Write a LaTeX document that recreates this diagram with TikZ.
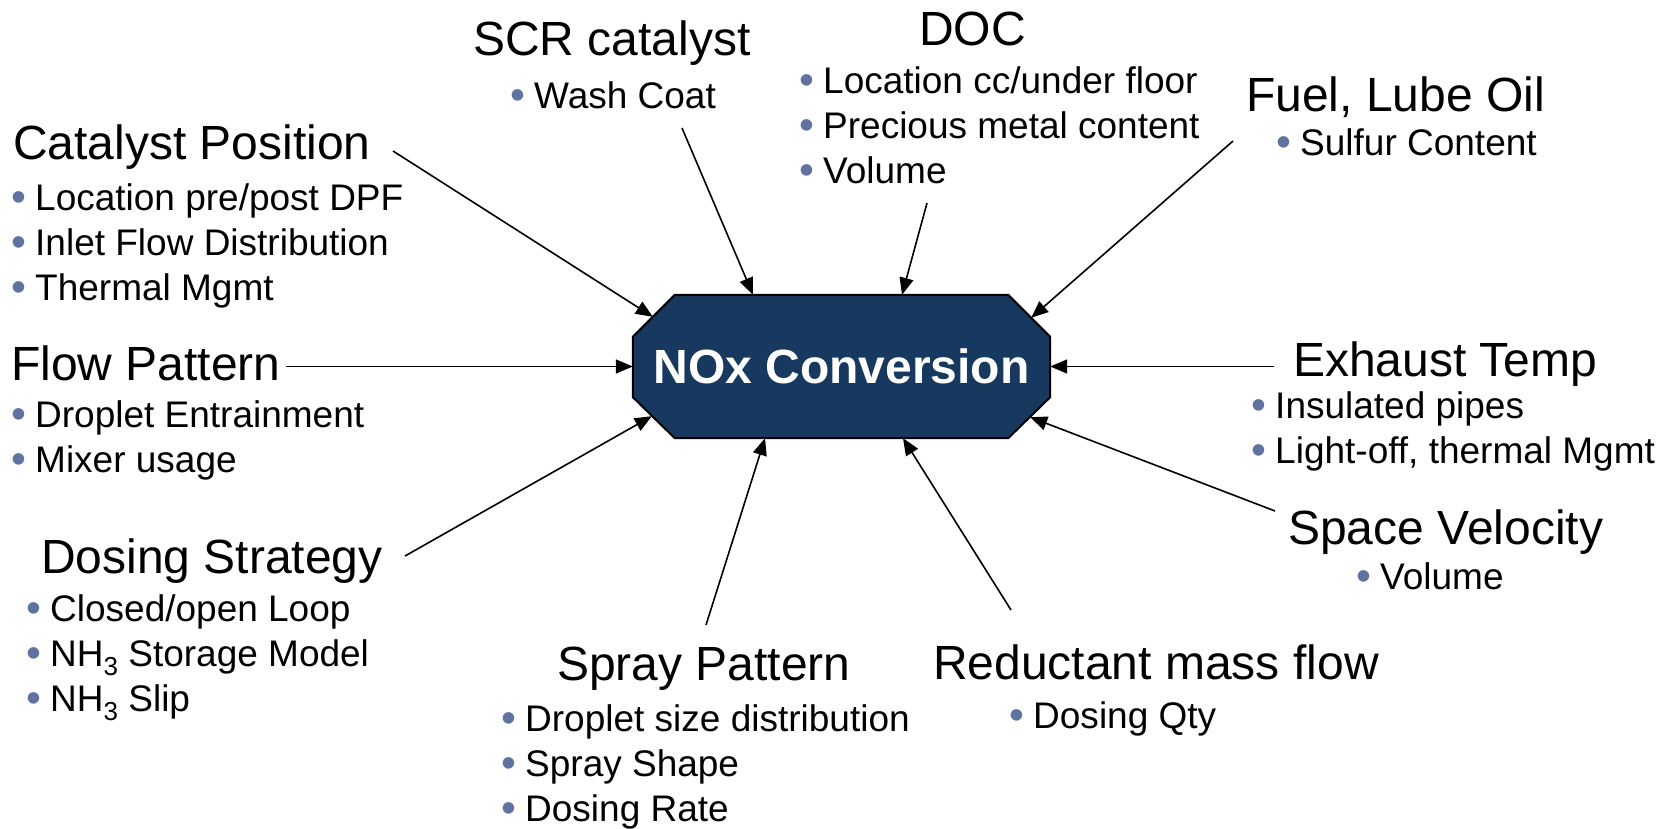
\documentclass[tikz,border=0pt]{standalone}
\usepackage{fontspec}
\setmainfont{Liberation Sans}
\usetikzlibrary{arrows.meta,calc,backgrounds}

\definecolor{noxblue}{RGB}{23,56,95}
\definecolor{bulletblue}{RGB}{96,114,160}

% bullet centred on the line origin, text starting a little to the right
\newcommand\bul{\makebox[0pt]{\textcolor{bulletblue}{\raisebox{-1bp}{\scalebox{1.15}{•}}}}\hspace{16bp}}
% chemical subscript, set lower and larger than \textsubscript
\newcommand\chsub[1]{\raisebox{-0.26em}{\fontsize{26bp}{26bp}\selectfont #1}}

% bullet lists are placed by the baseline of their last line
\tikzset{
  heading/.style={anchor=base west, inner sep=0pt,
    font=\fontsize{48bp}{54bp}\selectfont},
  points/.style={anchor=base west, inner sep=0pt, align=left,
    font=\fontsize{37bp}{45bp}\selectfont},
  feed/.style={line width=1.6bp, -{Triangle[length=17bp,width=14bp]}},
  core/.style={inner sep=0pt, minimum width=417bp, minimum height=143bp,
    text=white, font=\bfseries\fontsize{48bp}{54bp}\selectfont},
  coreshape/.style={fill=noxblue, draw=black, line width=2bp},
}

\begin{document}
\begin{tikzpicture}[x=1bp,y=-1bp]
\useasboundingbox (0,0) rectangle (1673,829);

% central block
\node[core] (oct) at (841.5,366.5) {NOx Conversion};
\begin{scope}[on background layer]
  \filldraw[coreshape]
    ($(oct.north west)+(42,0)$) -- ($(oct.north east)+(-42,0)$) --
    ($(oct.north east)+(0,42)$) -- ($(oct.south east)+(0,-41)$) --
    ($(oct.south east)+(-42,0)$) -- ($(oct.south west)+(42,0)$) --
    ($(oct.south west)+(0,-41)$) -- ($(oct.north west)+(0,42)$) -- cycle;
\end{scope}

% influencing factors
\node[heading] (cp) at (13,159) {Catalyst Position};
\node[points] (cp-l) at (19,300) {\bul Location pre/post DPF\\\bul Inlet Flow Distribution\\\bul Thermal Mgmt};

\node[heading] (scr) at (473,55) {SCR catalyst};
\node[points] (scr-l) at (518,108) {\bul Wash Coat};

\node[heading] (doc) at (919,45) {DOC};
\node[points] (doc-l) at (807,183) {\bul Location cc/under floor\\\bul Precious metal content\\\bul Volume};

\node[heading] (fuel) at (1246,111) {Fuel, Lube Oil};
\node[points] (fuel-l) at (1284,155) {\bul Sulfur Content};

\node[heading] (flow) at (11,380) {Flow Pattern};
\node[points] (flow-l) at (19,472) {\bul Droplet Entrainment\\\bul Mixer usage};

\node[heading] (exh) at (1293,376) {Exhaust Temp};
\node[points] (exh-l) at (1259,463) {\bul Insulated pipes\\\bul Light-off, thermal Mgmt};

\node[heading] (dose) at (41,573) {Dosing Strategy};
\node[points] (dose-l) at (34,711) {\bul Closed/open Loop\\\bul NH\chsub{3} Storage Model\\\bul NH\chsub{3} Slip};

\node[heading] (sv) at (1288,544) {Space Velocity};
\node[points] (sv-l) at (1364,589) {\bul Volume};

\node[heading] (spray) at (557,680) {Spray Pattern};
\node[points] (spray-l) at (509,821) {\bul Droplet size distribution\\\bul Spray Shape\\\bul Dosing Rate};

\node[heading] (red) at (933,679) {Reductant mass flow};
\node[points] (red-l) at (1017,728) {\bul Dosing Qty};

% connector start points beside the headings
\coordinate (cp-out) at (393,151);
\coordinate (scr-out) at (682,128);
\coordinate (doc-out) at (927,203);
\coordinate (fuel-out) at (1233,141);
\coordinate (flow-out) at (286,366.5);
\coordinate (exh-out) at (1274,366.5);
\coordinate (dose-out) at (405,556);
\coordinate (sv-out) at (1275,511);
\coordinate (spray-out) at (706,625);
\coordinate (red-out) at (1011,610);

% connectors into the central block
\draw[feed] (cp-out) -- ($(oct.north west)+(20,22)$);
\draw[feed] (scr-out) -- ($(oct.north)+(-88.5,0)$);
\draw[feed] (doc-out) -- ($(oct.north)+(60.5,0)$);
\draw[feed] (fuel-out) -- ($(oct.north east)+(-19,23)$);
\draw[feed] (flow-out) -- (oct.west);
\draw[feed] (exh-out) -- (oct.east);
\draw[feed] (dose-out) -- ($(oct.south west)+(19,-22)$);
\draw[feed] (sv-out) -- ($(oct.south east)+(-20,-21)$);
\draw[feed] (spray-out) -- ($(oct.south)+(-76.5,0)$);
\draw[feed] (red-out) -- ($(oct.south)+(61.5,0)$);
\end{tikzpicture}
\end{document}
